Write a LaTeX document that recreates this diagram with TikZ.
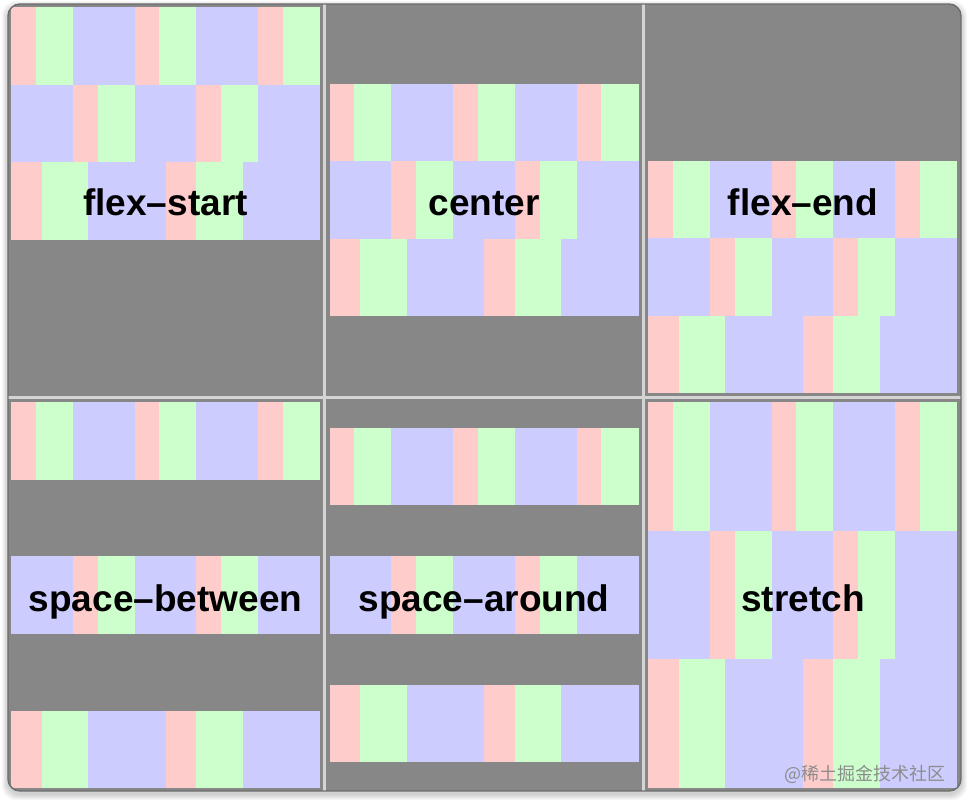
\documentclass[tikz,border=0pt]{standalone}
\usepackage{fontspec}
\setmainfont{Liberation Sans}
\newfontfamily\cjkfont{Noto Sans CJK SC}
\usetikzlibrary{positioning}

\definecolor{itempink}{HTML}{FFCCCC}
\definecolor{itemgreen}{HTML}{CCFFCC}
\definecolor{itemblue}{HTML}{CCCCFF}
\definecolor{boxgray}{HTML}{878787}
\definecolor{gapgray}{HTML}{D4D4D4}

\tikzset{
  itemP/.style={fill=itempink},
  itemG/.style={fill=itemgreen},
  itemL/.style={fill=itemblue},
  panelbox/.style={fill=boxgray},
  flexlabel/.style={anchor=base, inner sep=0pt,
    font=\fontsize{37}{40}\selectfont\bfseries},
  markfont/.style={anchor=base east, inner sep=0pt, text=black!45,
    font=\cjkfont\fontsize{18}{20}\selectfont}
}

\newcommand{\listA}{itemP/2,itemG/3,itemL/5,itemP/2,itemG/3,itemL/5,itemP/2,itemG/3}
\newcommand{\listB}{itemL/5,itemP/2,itemG/3,itemL/5,itemP/2,itemG/3,itemL/5}
\newcommand{\listC}{itemP/2,itemG/3,itemL/5,itemP/2,itemG/3,itemL/5}

\newcommand{\itemrow}[5]{%
  \foreach \c/\w [remember=\xe as \xs (initially #1),
                  evaluate=\w as \xe using \xs+#4*\w] in #5
    \fill[\c] (\xs,#2) rectangle (\xe,#2+#3);
}
\newcommand{\itemrows}[5]{%
  \itemrow{#1}{#2}{#5}{12.36}{\listA}
  \itemrow{#1}{#3}{#5}{12.36}{\listB}
  \itemrow{#1}{#4}{#5}{15.45}{\listC}
}

\begin{document}
\begin{tikzpicture}[x=1pt,y=-1pt]
  \useasboundingbox[fill=white] (0,0) rectangle (968,804);
  \foreach \s in {1,...,6}
    \fill[black,opacity=0.03,rounded corners=14pt] (8-\s,4-\s+3) rectangle (961+\s,791+\s+3);
  \begin{scope}
    \clip[rounded corners=12pt] (8,4) rectangle (961,791);
    \fill[gapgray] (8,4) rectangle (961,791);
    \foreach \xa/\xb in {8/323,326/642,645/961}
      \foreach \ya/\yb in {4/396,399/791}
        \fill[panelbox] (\xa,\ya) rectangle (\xb,\yb);
    \itemrows{11}{7}{84.5}{162}{77.5}
    \itemrows{329.5}{83.75}{161.25}{238.75}{77.5}
    \itemrows{648}{160.5}{238}{315.5}{77.5}
    \itemrows{11}{402}{556.25}{710.5}{77.5}
    \itemrows{329.5}{427.6}{556.25}{684.9}{77.5}
    \itemrows{648}{402}{530.67}{659.33}{128.67}
  \end{scope}
  \draw[boxgray!80!black,line width=1.4pt,rounded corners=12pt] (8,4) rectangle (961,791);
  \node[flexlabel] (lstart)   at (165.5,215) {flex–start};
  \node[flexlabel] (lcenter)  at (484,215)   {center};
  \node[flexlabel] (lend)     at (803,215)   {flex–end};
  \node[flexlabel] (lbetween) at (165.5,611) {space–between};
  \node[flexlabel] (laround)  at (484,611)   {space–around};
  \node[flexlabel] (lstretch) at (803,611)   {stretch};
  \node[markfont] (mark) at (946,780) {@稀土掘金技术社区};
\end{tikzpicture}
\end{document}
